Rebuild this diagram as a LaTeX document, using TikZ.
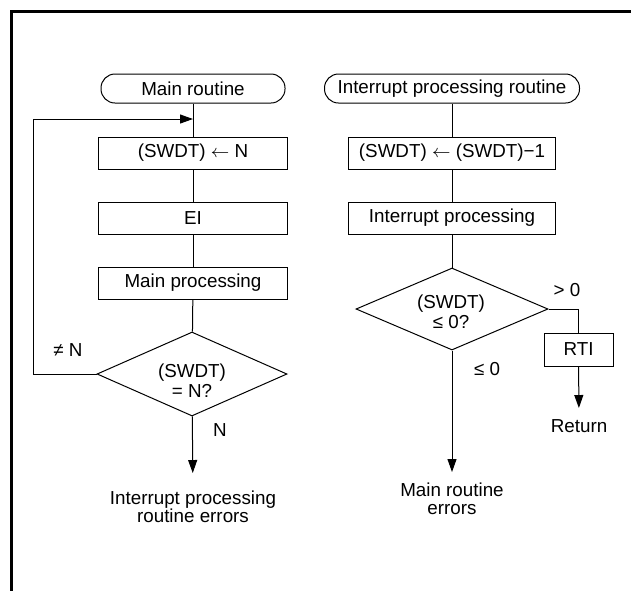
\documentclass[tikz,border=0pt]{standalone}
\usepackage{fontspec}
\setmainfont{Liberation Sans}
\usetikzlibrary{shapes.geometric,arrows.meta}

\begin{document}
\begin{tikzpicture}[x=0.5pt,y=-0.5pt,line width=0.5pt,
    font=\fontsize{9.4}{10}\selectfont,
    term/.style={draw,rounded corners=7pt,minimum height=14.5pt,inner sep=0pt},
    proc/.style={draw,minimum height=16pt,inner sep=0pt},
    decide/.style={draw,diamond,inner sep=0pt},
    txt/.style={inner sep=0pt,align=center},
    flow/.style={-{Triangle[length=6.5pt,width=4.5pt]}}]
    \useasboundingbox (0,0) rectangle (631,591);
    % frame
    \draw[line width=1.5pt] (631,11.5) -- (11.5,11.5) -- (11.5,591);

    % main routine
    \node[term,minimum width=92pt] (main) at (193,88.5) {Main routine};
    \node[proc,minimum width=94.5pt] (setn) at (193,153) {(SWDT) $\leftarrow$ N};
    \node[proc,minimum width=94.5pt] (ei) at (193,218) {EI};
    \node[proc,minimum width=94.5pt] (mainproc) at (193,283) {Main processing};
    \node[decide,minimum width=95pt,minimum height=42pt] (chkn) at (192,374) {};
    \node[txt] (chkntext) at (192,381) {(SWDT)\\= N?};
    \node[txt,anchor=north,font=\fontsize{9.4}{9}\selectfont] (err1) at (193,490) {Interrupt processing\\routine errors};
    \node[txt] (ne) at (68,350) {≠ N};
    \node[txt] (eqn) at (220,430) {N};
    \coordinate (loopin) at (193,119);
    \coordinate (loopcorner) at (33,374);

    \draw (main) -- (setn);
    \draw (setn) -- (ei);
    \draw (ei) -- (mainproc);
    \draw (mainproc) -- (chkn);
    \draw[flow] (chkn.west) -- (loopcorner) |- (loopin);
    \draw[flow,shorten >=8.5pt] (chkn) -- (err1);

    % interrupt routine
    \node[term,minimum width=127.5pt] (irq) at (452,88.5) {Interrupt processing routine};
    \node[proc,minimum width=103.5pt] (dec) at (452,153) {(SWDT) $\leftarrow$ (SWDT)−1};
    \node[proc,minimum width=103.5pt] (irqproc) at (452,218) {Interrupt processing};
    \node[decide,minimum width=96pt,minimum height=41pt] (chkz) at (452,309) {};
    \node[txt] (chkztext) at (451,312) {(SWDT)\\≤ 0?};
    \node[proc,minimum width=34.5pt,minimum height=16.5pt] (rti) at (578.5,349.5) {RTI};
    \node[txt,anchor=north] (ret) at (579,419) {Return};
    \node[txt,anchor=north,font=\fontsize{9.4}{9}\selectfont] (err2) at (452,482) {Main routine\\errors};
    \node[txt] (gt) at (567,290) {> 0};
    \node[txt] (le) at (487,369) {≤ 0};

    \draw (irq) -- (dec);
    \draw (dec) -- (irqproc);
    \draw (irqproc) -- (chkz);
    \draw (chkz.east) -| (rti.north);
    \draw[flow,shorten >=5.5pt] (rti) -- (ret);
    \draw[flow,shorten >=5pt] (chkz) -- (err2);
\end{tikzpicture}
\end{document}
